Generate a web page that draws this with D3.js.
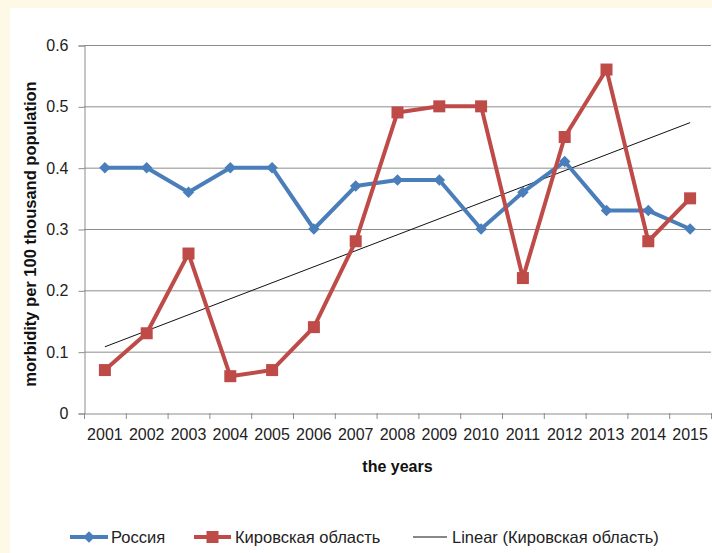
<!DOCTYPE html>
<html>
<head>
<meta charset="utf-8">
<script src="https://cdn.jsdelivr.net/npm/d3@7"></script>
<style>
  body { margin: 0; background: #fef9e6; }
  svg { display: block; }
</style>
</head>
<body>
<script>
(function() {
  const years = ['2001', '2002', '2003', '2004', '2005', '2006', '2007', '2008',
    '2009', '2010', '2011', '2012', '2013', '2014', '2015'];
  const russia = [0.40, 0.40, 0.36, 0.40, 0.40, 0.30, 0.37, 0.38, 0.38, 0.30, 0.36, 0.41, 0.33, 0.33, 0.30];
  const kirov = [0.07, 0.13, 0.26, 0.06, 0.07, 0.14, 0.28, 0.49, 0.50, 0.50, 0.22, 0.45, 0.56, 0.28, 0.35];
  const yTicks = [0, 0.1, 0.2, 0.3, 0.4, 0.5, 0.6];
  const seriesNames = ['Россия', 'Кировская область', 'Linear (Кировская область)'];

  const width = 712;
  const height = 553;
  const left = 84, right = 711, top = 45, bottom = 413;
  const blue = '#4a7ebb';
  const red = '#be4b48';
  const grid = '#8c8c8c';
  const font = '"Liberation Sans", Arial, sans-serif';

  const svg = d3.select('body').append('svg').attr('width', width).attr('height', height);

  svg.append('rect').attr('x', 10).attr('y', 8).attr('width', width - 10).attr('height', height - 8)
    .attr('fill', '#ffffff');

  const xScale = d3.scaleBand().domain(years).range([left, right]);
  const yScale = d3.scaleLinear().domain([0, 0.6]).range([bottom, top]);

  // gridlines
  svg.append('g').selectAll('line').data(yTicks.slice(1)).enter().append('line')
    .attr('x1', left).attr('x2', right)
    .attr('y1', d => yScale(d) + 0.5).attr('y2', d => yScale(d) + 0.5)
    .attr('stroke', grid).attr('stroke-width', 1);

  // y axis
  const yAxis = svg.append('g')
    .attr('transform', 'translate(' + (left + 0.5) + ',0.5)')
    .call(d3.axisLeft(yScale).tickValues(yTicks).tickSize(6).tickPadding(10)
      .tickFormat(d => d === 0 ? '0' : d3.format('.1f')(d)));
  yAxis.select('.domain').attr('stroke', grid);
  yAxis.selectAll('.tick line').attr('stroke', grid);
  yAxis.selectAll('text').attr('font-family', font).attr('font-size', 16).attr('fill', '#222');

  // x axis
  const xAxis = svg.append('g')
    .attr('transform', 'translate(0,' + (bottom + 0.5) + ')')
    .call(d3.axisBottom(xScale).tickSize(0).tickPadding(15));
  xAxis.select('.domain').attr('stroke', grid);
  xAxis.selectAll('text').attr('font-family', font).attr('font-size', 16).attr('fill', '#222');
  svg.append('g').selectAll('line').data(years.concat(['end'])).enter().append('line')
    .attr('x1', (d, i) => left + i * xScale.bandwidth() + 0.5)
    .attr('x2', (d, i) => left + i * xScale.bandwidth() + 0.5)
    .attr('y1', bottom).attr('y2', bottom + 6)
    .attr('stroke', grid);

  const cx = (d, i) => xScale(years[i]) + xScale.bandwidth() / 2;

  // trend line (least squares fit of Kirov series, as Excel does)
  const n = kirov.length;
  const xs = d3.range(1, n + 1);
  const mx = d3.mean(xs), my = d3.mean(kirov);
  const slope = d3.sum(xs, (x, i) => (x - mx) * (kirov[i] - my)) / d3.sum(xs, x => (x - mx) * (x - mx));
  const icpt = my - slope * mx;
  svg.append('line')
    .attr('x1', cx(null, 0)).attr('y1', yScale(icpt + slope * 1))
    .attr('x2', cx(null, n - 1)).attr('y2', yScale(icpt + slope * n))
    .attr('stroke', '#111').attr('stroke-width', 1);

  const line = d3.line().x(cx).y(d => yScale(d));
  const diamond = d3.symbol().type(d3.symbolDiamond2).size(85);

  svg.append('path').datum(russia).attr('d', line)
    .attr('fill', 'none').attr('stroke', blue).attr('stroke-width', 4).attr('stroke-linejoin', 'round');
  svg.append('g').selectAll('path').data(russia).enter().append('path')
    .attr('d', diamond)
    .attr('transform', (d, i) => 'translate(' + cx(d, i) + ',' + yScale(d) + ')')
    .attr('fill', blue);

  svg.append('path').datum(kirov).attr('d', line)
    .attr('fill', 'none').attr('stroke', red).attr('stroke-width', 4).attr('stroke-linejoin', 'round');
  svg.append('g').selectAll('rect').data(kirov).enter().append('rect')
    .attr('x', (d, i) => cx(d, i) - 6).attr('y', d => yScale(d) - 6)
    .attr('width', 12).attr('height', 12)
    .attr('fill', red);

  // axis titles
  svg.append('text')
    .attr('transform', 'translate(36,' + 234 + ') rotate(-90)')
    .attr('text-anchor', 'middle')
    .attr('font-family', font).attr('font-size', 16.5).attr('font-weight', 'bold').attr('fill', '#111')
    .text('morbidity per 100 thousand population');
  svg.append('text')
    .attr('x', (left + right) / 2).attr('y', 472)
    .attr('text-anchor', 'middle')
    .attr('font-family', font).attr('font-size', 16).attr('font-weight', 'bold').attr('fill', '#111')
    .text('the years');

  // legend
  const ly = 537;
  const legend = svg.append('g');
  const entries = [
    { x1: 70, x2: 108, tx: 111, color: blue, w: 4, mark: 'diamond' },
    { x1: 194, x2: 231, tx: 235, color: red, w: 4, mark: 'square' },
    { x1: 413, x2: 447, tx: 452, color: '#111', w: 1, mark: null }
  ];
  entries.forEach((e, i) => {
    legend.append('line').attr('x1', e.x1).attr('x2', e.x2).attr('y1', ly).attr('y2', ly)
      .attr('stroke', e.color).attr('stroke-width', e.w);
    const mxp = (e.x1 + e.x2) / 2;
    if (e.mark === 'diamond') {
      legend.append('path').attr('d', diamond)
        .attr('transform', 'translate(' + mxp + ',' + ly + ')').attr('fill', e.color);
    } else if (e.mark === 'square') {
      legend.append('rect').attr('x', mxp - 6).attr('y', ly - 6).attr('width', 12).attr('height', 12)
        .attr('fill', e.color);
    }
    legend.append('text').attr('x', e.tx).attr('y', ly + 6)
      .attr('font-family', font).attr('font-size', 16.5).attr('fill', '#222')
      .text(seriesNames[i]);
  });
})();
</script>
</body>
</html>
